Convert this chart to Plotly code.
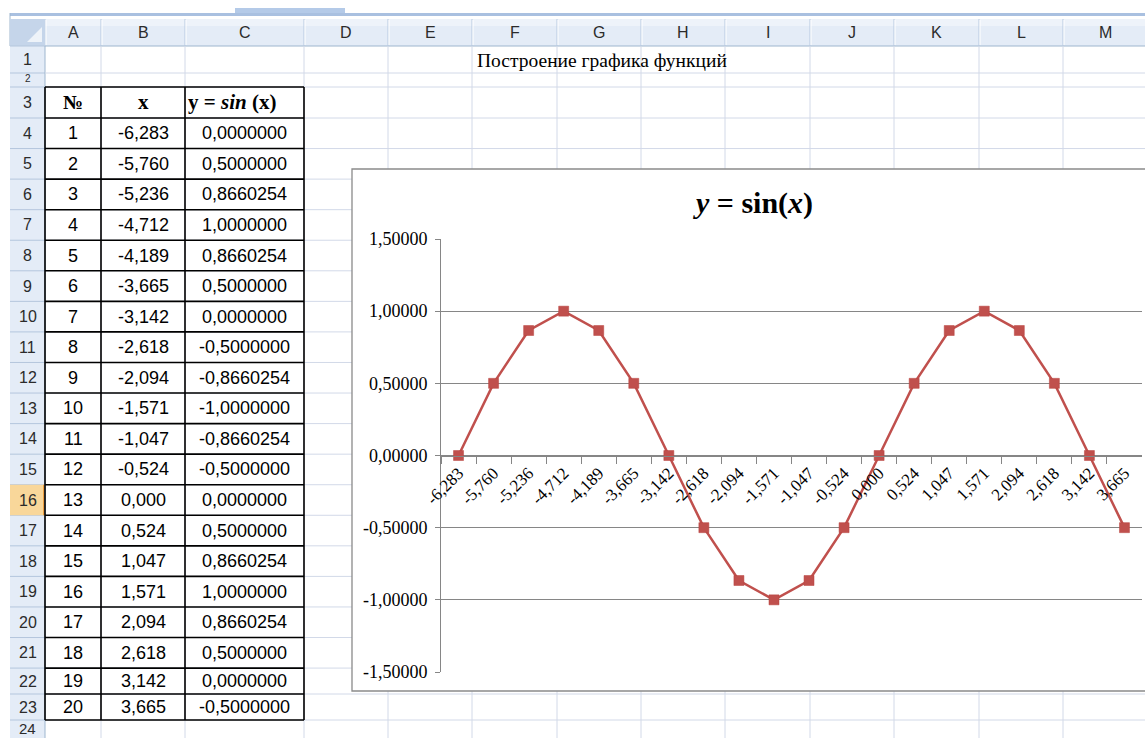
import plotly.graph_objects as go

W, H = 1145, 738

# ---------------- data ----------------
row_numbers = [1, 2, 3, 4, 5, 6, 7, 8, 9, 10, 11, 12, 13, 14, 15, 16, 17, 18, 19, 20]
x_values = [-6.283, -5.760, -5.236, -4.712, -4.189, -3.665, -3.142, -2.618, -2.094, -1.571,
            -1.047, -0.524, 0.000, 0.524, 1.047, 1.571, 2.094, 2.618, 3.142, 3.665]
y_values = [0.0000000, 0.5000000, 0.8660254, 1.0000000, 0.8660254, 0.5000000, 0.0000000,
            -0.5000000, -0.8660254, -1.0000000, -0.8660254, -0.5000000, 0.0000000, 0.5000000,
            0.8660254, 1.0000000, 0.8660254, 0.5000000, 0.0000000, -0.5000000]
col_letters = ["A", "B", "C", "D", "E", "F", "G", "H", "I", "J", "K", "L", "M"]
sheet_row_labels = [str(i) for i in range(1, 25)]
y_tick_values = [-1.5, -1.0, -0.5, 0.0, 0.5, 1.0, 1.5]
y_tick_labels = ["-1,50000", "-1,00000", "-0,50000", "0,00000", "0,50000", "1,00000", "1,50000"]
table_headers = ["<b>№</b>", "<b>x</b>", "<b>y = <i>sin</i> (x)</b>"]
sheet_title = "Построение графика функций"
chart_title = "<b><i>y</i> = sin(<i>x</i>)</b>"

x_labels = [f"{v:.3f}".replace(".", ",") for v in x_values]
y_cell_text = [f"{v:.7f}".replace(".", ",") for v in y_values]

# ---------------- geometry helpers (pixels -> paper) ----------------
def X(px):
    return px / W


def Y(py):
    return 1 - py / H


col_edges = [45, 101, 185, 304, 388, 472, 557, 641, 725, 810, 894, 979, 1063, 1147]
row_edges = [46, 73, 87, 118] + [118 + 30.56 * i for i in range(1, 19)] + [694, 720, 752]

shapes = []


def rect(x0, y0, x1, y1, fill, line=None, lw=0):
    shapes.append(dict(type="rect", xref="paper", yref="paper", layer="below",
                       x0=X(x0), x1=X(x1), y0=Y(y1), y1=Y(y0), fillcolor=fill,
                       line=dict(color=line or fill, width=lw)))


def hline(y, x0, x1, color, w=1):
    shapes.append(dict(type="line", xref="paper", yref="paper", layer="below",
                       x0=X(x0), x1=X(x1), y0=Y(y), y1=Y(y), line=dict(color=color, width=w)))


def vline(x, y0, y1, color, w=1):
    shapes.append(dict(type="line", xref="paper", yref="paper", layer="below",
                       x0=X(x), x1=X(x), y0=Y(y0), y1=Y(y1), line=dict(color=color, width=w)))


GRID = "#D2D9E8"
HDR = "#E4ECF7"
HDR_LINE = "#9EB6CE"

# top strip
rect(235, 8, 345, 14, "#B4CAE8")
rect(10, 13, 1145, 16, "#A9C0E0")
vline(10, 13, 46, "#9EB6CE")

# column header
rect(10, 19, 1145, 46, HDR)
rect(10, 19, 1145, 26, "#EEF3FA")
hline(46, 10, 1145, HDR_LINE)
for ce in col_edges:
    vline(ce, 19, 46, "#B7C9E0")
    vline(ce + 1, 20, 45, "#FFFFFF")
# corner cell
rect(10, 19, 45, 46, "#C5D5EA")
shapes.append(dict(type="path", xref="paper", yref="paper", layer="below",
                   path=f"M {X(27)} {Y(42)} L {X(42)} {Y(42)} L {X(42)} {Y(27)} Z",
                   fillcolor="#EEF3F9", line=dict(width=0)))

# row header
rect(10, 46, 45, 752, HDR)
for re_ in row_edges:
    hline(re_, 10, 45, "#B4C6DD")
# highlighted row 16
r16_0, r16_1 = row_edges[15], row_edges[16]
rect(10, r16_0, 45, r16_1, "#F9D79A")
vline(44, r16_0, r16_1, "#F0A040", 2)
vline(45, 46, 752, HDR_LINE)

# grid lines
for ce in col_edges[1:]:
    vline(ce, 46, 752, GRID)
for re_ in row_edges[1:]:
    hline(re_, 45, 1145, GRID)

# table borders (A3:C23)
t_top, t_bot = row_edges[2], row_edges[23]
for ce in col_edges[:4]:
    vline(ce, t_top, t_bot, "#000000", 1.6)
for re_ in row_edges[2:24]:
    hline(re_, 45, 304, "#000000", 1.6)

# chart box
rect(352, 169, 1160, 691, "#FFFFFF", "#8A8A8A", 1.3)

# ---------------- annotations ----------------
ann = []


def text(x, y, s, size, family="Liberation Sans", color="#000000", xanchor="center"):
    ann.append(dict(x=X(x), y=Y(y), xref="paper", yref="paper", text=s, showarrow=False,
                    xanchor=xanchor, yanchor="middle",
                    font=dict(family=family, size=size, color=color)))


for i, letter in enumerate(col_letters):
    text((col_edges[i] + col_edges[i + 1]) / 2, 33, letter, 16, color="#2B2B2B")
for i, lab in enumerate(sheet_row_labels):
    y0, y1 = row_edges[i], row_edges[i + 1]
    if lab == "2":
        text(27.5, 78, lab, 10, color="#2B2B2B")
    elif lab == "24":
        text(27.5, 728, lab, 15, color="#2B2B2B")
    else:
        text(27.5, (y0 + y1) / 2, lab, 16, color="#2B2B2B")

# table header row 3
hc = (row_edges[2] + row_edges[3]) / 2
text(73, hc, table_headers[0], 20, "Liberation Serif")
text(143, hc, table_headers[1], 21, "Liberation Serif")
text(186, hc, table_headers[2], 21, "Liberation Serif", xanchor="left")

for i in range(len(row_numbers)):
    yc = (row_edges[3 + i] + row_edges[4 + i]) / 2
    text(73, yc, str(row_numbers[i]), 18)
    text(143, yc, x_labels[i], 18)
    text(244.5, yc, y_cell_text[i], 18)

text(601.5, 61, sheet_title, 19.5, "Liberation Serif")
text(753, 203, chart_title, 30, "Liberation Serif")

# ---------------- chart ----------------
fig = go.Figure()
fig.add_trace(go.Scatter(
    x=x_labels, y=y_values, mode="lines+markers",
    line=dict(color="#C0504D", width=2.5),
    marker=dict(symbol="square", size=10, color="#C0504D", line=dict(color="#B9423F", width=0.5)),
    showlegend=False, hoverinfo="skip"))

fig.update_layout(
    template="none",
    width=W, height=H, autosize=False,
    margin=dict(l=0, r=0, t=0, b=0, pad=0, autoexpand=False),
    paper_bgcolor="#FFFFFF", plot_bgcolor="rgba(0,0,0,0)",
    shapes=shapes, annotations=ann,
    xaxis=dict(
        domain=[X(441), X(1142)], type="category", range=[-0.5, 19.5],
        anchor="free", position=Y(455.5), automargin=False,
        showline=True, linecolor="#868686", linewidth=1,
        ticks="outside", tickson="boundaries", ticklen=7, tickcolor="#868686",
        tickangle=-45, tickfont=dict(family="Liberation Serif", size=17, color="#000000"),
        showgrid=False, zeroline=False, fixedrange=True),
    yaxis=dict(
        domain=[Y(672), Y(239)], range=[-1.5, 1.5], anchor="x", automargin=False,
        tickvals=y_tick_values, ticktext=y_tick_labels,
        ticks="outside", ticklen=5, tickcolor="#868686", ticklabelstandoff=4,
        showline=True, linecolor="#868686", linewidth=1,
        showgrid=True, gridcolor="#868686", gridwidth=1, zeroline=False,
        tickfont=dict(family="Liberation Serif", size=18, color="#000000"),
        fixedrange=True),
)

fig.write_html("out.html", config={"displayModeBar": False})
